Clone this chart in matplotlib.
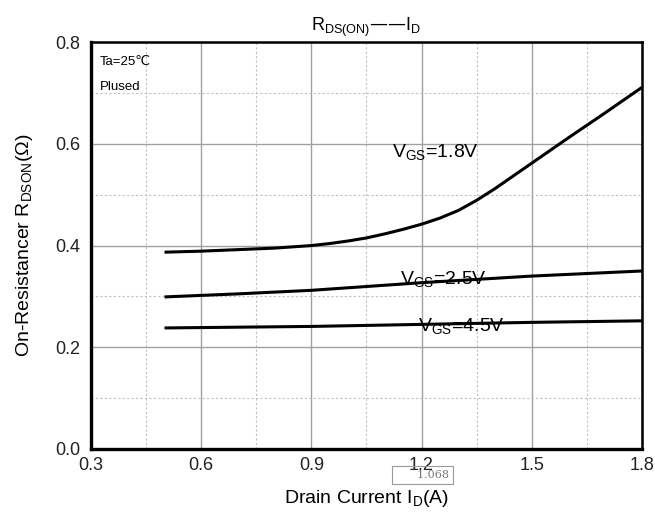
import numpy as np
import matplotlib
matplotlib.use('Agg')
import matplotlib.pyplot as plt
from matplotlib.ticker import MultipleLocator

plt.rcParams['font.family'] = ['Liberation Sans', 'DejaVu Sans']
plt.rcParams['mathtext.default'] = 'regular'

# drain current (A) and on-resistance (ohm)
id_18 = [0.5, 0.6, 0.7, 0.8, 0.9, 0.95, 1.0, 1.05, 1.1, 1.15, 1.2, 1.25, 1.3, 1.35, 1.4, 1.5, 1.6, 1.7, 1.8]
r_18 = [0.387, 0.389, 0.392, 0.395, 0.400, 0.404, 0.409, 0.415, 0.423, 0.432, 0.442, 0.454, 0.469, 0.489, 0.512, 0.562, 0.612, 0.661, 0.711]

id_25 = [0.5, 0.7, 0.9, 1.2, 1.5, 1.8]
r_25 = [0.299, 0.305, 0.312, 0.327, 0.340, 0.350]

id_45 = [0.5, 0.9, 1.2, 1.5, 1.8]
r_45 = [0.238, 0.241, 0.245, 0.249, 0.252]

xticks = [0.3, 0.6, 0.9, 1.2, 1.5, 1.8]
yticks = [0.0, 0.2, 0.4, 0.6, 0.8]

fig = plt.figure(figsize=(6.55, 5.14), dpi=100)
ax = fig.add_axes([0.139, 0.1265, 0.841, 0.7915])

for x, y in [(id_18, r_18), (id_25, r_25), (id_45, r_45)]:
    ax.plot(x, y, color='black', lw=2.2, solid_capstyle='butt', zorder=3)

ax.set_xlim(0.3, 1.8)
ax.set_ylim(0.0, 0.8)
ax.set_xticks(xticks)
ax.set_yticks(yticks)
ax.set_xticklabels(['%.1f' % v for v in xticks])
ax.set_yticklabels(['%.1f' % v for v in yticks])
ax.xaxis.set_minor_locator(MultipleLocator(0.15))
ax.yaxis.set_minor_locator(MultipleLocator(0.1))
ax.grid(True, which='major', color='#a0a0a0', lw=1.0)
ax.grid(True, which='minor', color='#c0c0c0', lw=0.8, ls=(0, (2, 2)))
ax.tick_params(which='both', length=0, labelsize=13, pad=8, colors='#222222')
ax.tick_params(axis='x', pad=6)

for s in ['left', 'bottom']:
    ax.spines[s].set_linewidth(2.4)
for s in ['top', 'right']:
    ax.spines[s].set_linewidth(1.8)

ax.set_xlabel('Drain Current I$_D$(A)', fontsize=14, labelpad=10)
ax.set_ylabel('On-Resistancer R$_{DSON}$(Ω)', fontsize=14, labelpad=14)
ax.set_title('R$_{DS(ON)}$——I$_D$', fontsize=13, pad=8)

ax.text(0.325, 0.755, 'Ta=25℃', fontsize=9.5)
ax.text(0.325, 0.705, 'Plused', fontsize=9.5)

ax.text(1.12, 0.575, 'V$_{GS}$=1.8V', fontsize=14)
ax.text(1.14, 0.325, 'V$_{GS}$=2.5V', fontsize=14)
ax.text(1.19, 0.232, 'V$_{GS}$=4.5V', fontsize=14)

ax.text(1.275, -0.042, '      1.068', fontsize=8, family='DejaVu Serif', color='#777777',
        ha='right', va='top',
        bbox=dict(boxstyle='square,pad=0.35', fc='none', ec='#999999', lw=0.8))

plt.savefig('out.png', dpi=100)
